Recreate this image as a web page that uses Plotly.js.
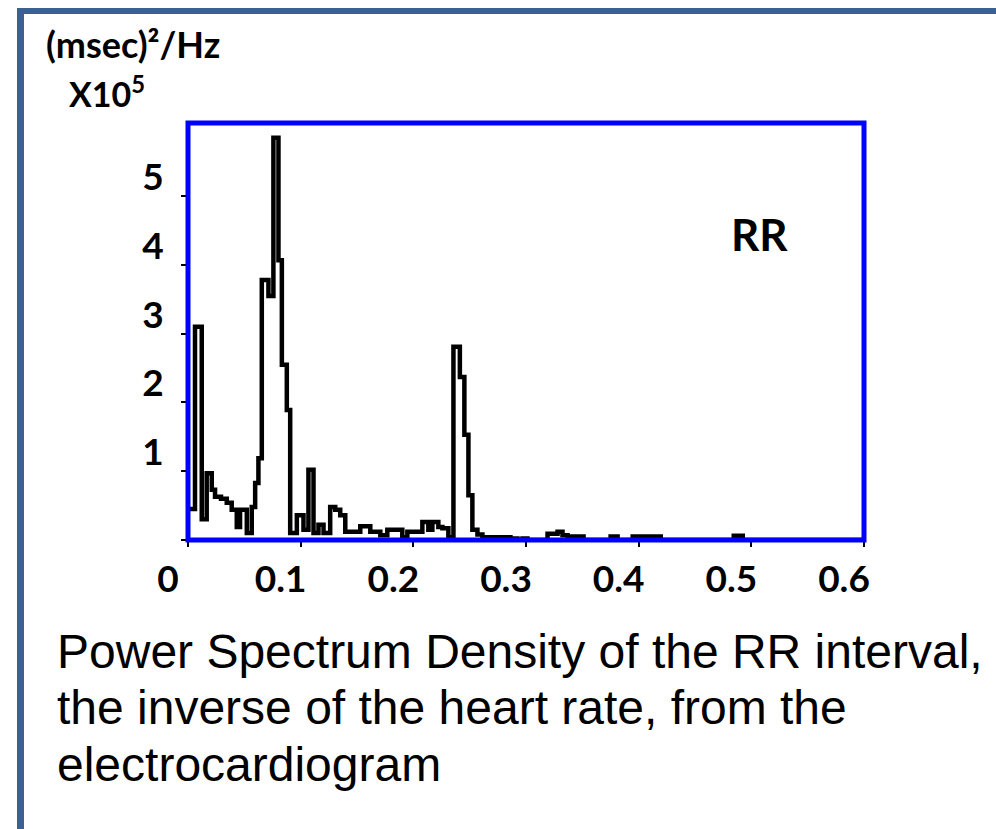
<!DOCTYPE html>
<html>
<head>
<meta charset="utf-8">
<script src="https://cdn.plot.ly/plotly-3.0.1.min.js"></script>
<style>html,body{margin:0;padding:0;background:#fff;}#chart{width:996px;height:829px;}</style>
</head>
<body>
<div id="chart"></div>
<script>
// Frequency (Hz), left edge of each spectral bin
const freqHz = [0, 0.0062, 0.0122, 0.0166, 0.0211, 0.024, 0.0293, 0.0344, 0.0388, 0.0433,
  0.0462, 0.0522, 0.0566, 0.0596, 0.0625, 0.0655, 0.0714, 0.0758, 0.0803, 0.0833,
  0.0877, 0.0907, 0.0966, 0.1025, 0.1069, 0.1114, 0.1158, 0.1203, 0.1262, 0.1307,
  0.1351, 0.1396, 0.1529, 0.1618, 0.1707, 0.1769, 0.1902, 0.1947, 0.208, 0.2133,
  0.2169, 0.2222, 0.2258, 0.2311, 0.2356, 0.2413, 0.2453, 0.2489, 0.2524, 0.2569,
  0.2613, 0.2862, 0.2924, 0.2969, 0.3013, 0.3191, 0.328, 0.3324, 0.3369, 0.3511,
  0.3751, 0.3813, 0.3947, 0.4196, 0.4844, 0.4924, 0.6];
// Power spectral density, (msec)^2/Hz x 10^5
const psd = [0.45, 3.10, 0.30, 0.97, 0.73, 0.63, 0.60, 0.54, 0.44, 0.19,
  0.44, 0.10, 0.48, 0.83, 1.19, 3.78, 3.55, 5.85, 4.07, 2.55,
  1.89, 0.10, 0.36, 0.15, 1.02, 0.10, 0.22, 0.10, 0.48, 0.44,
  0.36, 0.12, 0.20, 0.12, 0.07, 0.15, 0.04, 0.12, 0.26, 0.15,
  0.26, 0.19, 0.17, 0.04, 2.81, 2.37, 1.53, 0.65, 0.15, 0.08,
  0.04, 0.02, 0.0, 0.02, 0.0, 0.09, 0.12, 0.07, 0.05, 0.0,
  0.05, 0.0, 0.05, 0.0, 0.06, 0.0, 0.0];

const xTickVals = [0, 0.1, 0.2, 0.3, 0.4, 0.5, 0.6];
const xTickText = ['0', '0.1', '0.2', '0.3', '0.4', '0.5', '0.6'];
const yTickVals = [0, 1, 2, 3, 4, 5];
const yTickText = [' ', '1', '2', '3', '4', '5'];

const seriesLabel = 'RR';
const yUnitLabel = '(msec)²/Hz';
const yScaleLabel = 'X10<sup>5</sup>';
const captionLines = [
  'Power Spectrum Density of the RR interval,',
  'the inverse of the heart rate, from the',
  'electrocardiogram'
];

// layout geometry (pixels)
const W = 996, H = 829;
const PL = 188, PR = 864, PT = 123, PB = 540;
const px = x => (x - PL) / (PR - PL);
const py = y => (PB - y) / (PB - PT);

const boldFont = {family: 'Lato, sans-serif', size: 37, color: '#000', weight: 700};

const trace = {
  x: freqHz, y: psd, type: 'scatter', mode: 'lines',
  line: {shape: 'hv', color: '#000', width: 4.5},
  hoverinfo: 'x+y'
};

const annotations = [
  {text: '<b>' + yUnitLabel + '</b>', x: px(44), y: py(44), xanchor: 'left', yanchor: 'middle',
   font: {family: 'Lato, sans-serif', size: 36, color: '#000'}},
  {text: '<b>' + yScaleLabel + '</b>', x: px(67), y: py(92), xanchor: 'left', yanchor: 'middle',
   font: {family: 'Lato, sans-serif', size: 34, color: '#000'}},
  {text: '<b>' + seriesLabel + '</b>', x: px(759), y: py(234), xanchor: 'center', yanchor: 'middle',
   font: {family: 'Lato, sans-serif', size: 44, color: '#000'}}
];
const capY = [651, 707, 764];
captionLines.forEach((t, i) => annotations.push({
  text: t, x: px(55), y: py(capY[i]), xanchor: 'left', yanchor: 'middle',
  font: {family: 'Liberation Sans, Arial, sans-serif', size: 48, color: '#000'}
}));
annotations.forEach(a => { a.xref = 'paper'; a.yref = 'paper'; a.showarrow = false; });

const shapes = [
  {type: 'rect', xref: 'paper', yref: 'paper', x0: 0, x1: 1, y0: 0, y1: 1,
   line: {color: '#0000ff', width: 5}, layer: 'above'},
  {type: 'line', xref: 'paper', yref: 'paper', x0: px(17), x1: px(W), y0: py(11), y1: py(11),
   line: {color: '#3c6190', width: 6}, layer: 'above'},
  {type: 'line', xref: 'paper', yref: 'paper', x0: px(20.5), x1: px(20.5), y0: py(8), y1: py(H),
   line: {color: '#3c6190', width: 7}, layer: 'above'}
];

const layout = {
  width: W, height: H,
  margin: {l: PL, r: W - PR, t: PT, b: H - PB, pad: 0},
  paper_bgcolor: '#fff', plot_bgcolor: '#fff',
  showlegend: false,
  xaxis: {
    range: [0, 0.6], tickvals: xTickVals, ticktext: xTickText,
    ticks: 'outside', ticklen: 6, tickwidth: 2, tickcolor: '#000',
    showline: false, showgrid: false, zeroline: false,
    tickfont: boldFont, ticklabelshift: -20, ticklabelstandoff: 1
  },
  yaxis: {
    range: [0, 6.065], tickvals: yTickVals, ticktext: yTickText,
    ticks: 'outside', ticklen: 6, tickwidth: 2, tickcolor: '#000',
    showline: false, showgrid: false, zeroline: false,
    tickfont: boldFont, ticklabelshift: -19, ticklabelstandoff: 10
  },
  annotations: annotations,
  shapes: shapes
};

Plotly.newPlot('chart', [trace], layout, {displayModeBar: false, staticPlot: true});
</script>
</body>
</html>
